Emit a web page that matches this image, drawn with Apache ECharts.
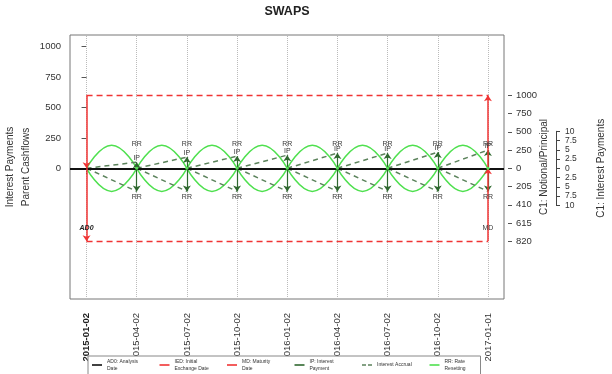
<!DOCTYPE html>
<html>
<head>
<meta charset="utf-8">
<script src="https://cdn.jsdelivr.net/npm/echarts@6/dist/echarts.min.js"></script>
<style>
html, body {margin:0; padding:0; background:#fff;}
#chart {width:612px; height:374px;}
</style>
</head>
<body>
<div id="chart"></div>
<script>
// event dates, x position = index in this list
let dateLabels = ['2015-01-02', '2015-04-02', '2015-07-02', '2015-10-02', '2016-01-02',
	'2016-04-02', '2016-07-02', '2016-10-02', '2017-01-01'];
let principalLevels = [600, -600];								// notional legs in parent units
let accrualReceive = [50, 92, 100, 108, 125, 125, 133, 150];	// accrued value at end of each period
let accrualPay = [-190, -190, -190, -190, -190, -190, -190, -190];
let resetUpper = [190, 190, 190, 190, 190, 190, 190, 190];	// rate reset arcs
let resetLower = [-190, -190, -190, -190, -190, -190, -190, -190];
let parentTicks = [0, 250, 500, 750, 1000];
let notionalTickPos = [-600, -450, -300, -150, 0, 150, 300, 450, 600];
let notionalTickText = ['820', '615', '410', '205', '0', '250', '500', '750', '1000'];
let interestTicks = [-10, -7.5, -5, -2.5, 0, 2.5, 5, 7.5, 10];
let legendNames = ['AD0: Analysis Date', 'IED: Initial Exchange Date', 'MD: Maturity Date',
	'IP: Interest Payment', 'Interest Accrual', 'RR: Rate Resetting'];
let legendText = ['AD0: Analysis\nDate', 'IED: Initial\nExchange Date', 'MD: Maturity\nDate',
	'IP: Interest\nPayment', 'Interest Accrual', 'RR: Rate\nResetting'];

let font = '"Liberation Sans", Arial, sans-serif';
let red = '#f03434', ipGreen = '#2f682f', accrualGreen = '#5c835c', resetGreen = '#4fe04f';
let lastIdx = dateLabels.length - 1;
let dateIdx = dateLabels.map((d, i) => i);
let solidIcon = 'path://M0,0H10V1.6H0Z';
let dashIcon = 'path://M0,0H4V1.6H0Z M6,0H10V1.6H6Z';

function seg(a, b){
	return [{coord: a}, {coord: b}];
}

function textPoint(coord, text, offset, extra){
	return {
		coord: coord, symbol: 'circle', symbolSize: 0,
		label: Object.assign({show: true, formatter: text, offset: offset,
			fontSize: 7, color: '#3a3a3a', fontFamily: font}, extra || {})
	};
}

// build the marks
let resetData = [];
let accrualData = [];
for(var i = 0; i < lastIdx; i++){
	resetData.push([i, 0], [i + 0.5, resetUpper[i]], [i + 1, 0], [null, null]);
	resetData.push([i, 0], [i + 0.5, resetLower[i]], [i + 1, 0], [null, null]);
	accrualData.push([i, 0], [i + 1, accrualReceive[i]], [null, null]);
	accrualData.push([i, 0], [i + 1, accrualPay[i]], [null, null]);
}
let ipLines = [];
let ipLabels = [];
let rrMarks = [];
for(var j = 1; j <= lastIdx; j++){
	ipLines.push(seg([j, 0], [j, accrualReceive[j - 1]]));
	ipLines.push(seg([j, 0], [j, accrualPay[j - 1]]));
	ipLabels.push(textPoint([j, accrualReceive[j - 1]], 'IP', [0, -4]));
	rrMarks.push(textPoint([j, resetUpper[j - 1]], 'RR', [0, -1]));
	rrMarks.push(textPoint([j, resetLower[j - 1]], 'RR', [0, 6]));
	rrMarks.push({coord: [j, 0], symbol: 'circle', symbolSize: 3,
		itemStyle: {color: resetGreen}, label: {show: false}});
}

let arrowLine = function(color, width, data){
	return {
		silent: true, symbol: ['none', 'arrow'], symbolSize: 6,
		label: {show: false},
		lineStyle: {color: color, width: width, type: 'solid'},
		emphasis: {disabled: true},
		data: data
	};
};

let option = {
	animation: false,
	backgroundColor: '#fff',
	textStyle: {fontFamily: font},
	title: {
		text: 'SWAPS', left: 287, top: 5, padding: 0, textAlign: 'center',
		textStyle: {fontSize: 12.5, fontWeight: 'bold', color: '#222', fontFamily: font}
	},
	legend: {
		left: 88, top: 356,
		padding: [2, 6, 4, 4],
		itemWidth: 10, itemHeight: 6, itemGap: 1.5,
		backgroundColor: '#fff', borderColor: '#888', borderWidth: 1,
		textStyle: {fontSize: 5, lineHeight: 7, width: 51, color: '#333', fontFamily: font},
		data: legendNames.map((n, k) => {
			let item = {name: n, icon: k === 4 ? dashIcon : solidIcon};
			if(k === legendNames.length - 1){
				item.textStyle = {width: 30};
			}
			return item;
		}),
		formatter: function(name){
			return legendText[legendNames.indexOf(name)];
		}
	},
	grid: [
		{left: 70, top: 35, width: 434, height: 264, show: true, borderColor: '#777', borderWidth: 1,
			outerBoundsMode: 'none', containLabel: false},
		{left: 556, top: 131.3, width: 26, height: 74, outerBoundsMode: 'none', containLabel: false}
	],
	xAxis: [
		{
			type: 'value', gridIndex: 0, min: -0.33, max: 8.32,
			axisLine: {show: false},
			axisTick: {show: true, customValues: dateIdx, length: 6, lineStyle: {color: '#555'}},
			axisLabel: {
				customValues: dateIdx, rotate: 90, margin: 14,
				fontSize: 9.5, color: '#333', fontFamily: font,
				formatter: function(value){
					let k = Math.round(value);
					return k === 0 ? '{b|' + dateLabels[k] + '}' : dateLabels[k];
				},
				rich: {b: {fontWeight: 'bold', fontSize: 9.5, color: '#222', fontFamily: font}}
			},
			splitLine: {show: false}
		},
		{type: 'value', gridIndex: 1, show: false, min: 0, max: 1}
	],
	yAxis: [
		{
			type: 'value', gridIndex: 0, position: 'left', min: -1075, max: 1096,
			axisLine: {show: false},
			axisTick: {show: true, customValues: parentTicks, length: 5, lineStyle: {color: '#555'}},
			axisLabel: {
				customValues: parentTicks, margin: 9, fontSize: 9.5, color: '#333', fontFamily: font,
				formatter: function(value){
					return String(value);
				}
			},
			splitLine: {show: false},
			name: 'Interest Payments\nParent Cashflows',
			nameLocation: 'middle', nameGap: 36, nameRotate: 90, nameMoveOverlap: false,
			nameTextStyle: {fontSize: 10, lineHeight: 16, color: '#333', fontFamily: font}
		},
		{
			type: 'value', gridIndex: 0, position: 'right', offset: 4, min: -1075, max: 1096,
			axisLine: {show: false},
			axisTick: {show: true, customValues: notionalTickPos, length: 4, lineStyle: {color: '#555'}},
			axisLabel: {
				customValues: notionalTickPos, margin: 8, fontSize: 9.5, color: '#333', fontFamily: font,
				formatter: function(value){
					return notionalTickText[notionalTickPos.indexOf(value)];
				}
			},
			splitLine: {show: false},
			name: 'C1: Notional/Principal',
			nameLocation: 'middle', nameGap: 31, nameRotate: 90, nameMoveOverlap: false,
			nameTextStyle: {fontSize: 10, color: '#333', fontFamily: font}
		},
		{
			type: 'value', gridIndex: 1, position: 'left', min: -10, max: 10,
			axisLine: {show: true, onZero: false, lineStyle: {color: '#444', width: 1}},
			axisTick: {show: true, inside: true, customValues: interestTicks, length: 4,
				lineStyle: {color: '#444'}},
			axisLabel: {
				customValues: interestTicks, inside: true, margin: 9, fontSize: 8.5, lineHeight: 8.5,
				color: '#333', fontFamily: font, hideOverlap: false,
				formatter: function(value){
					return String(Math.abs(value));
				}
			},
			splitLine: {show: false},
			name: 'C1: Interest Payments',
			nameLocation: 'middle', nameGap: -50, nameRotate: 90, nameMoveOverlap: false,
			nameTextStyle: {fontSize: 10, color: '#333', fontFamily: font}
		}
	],
	series: [
		{
			// vertical dotted guides at each date
			name: 'guides', type: 'line', data: [], symbol: 'none',
			markLine: {
				silent: true, symbol: 'none', label: {show: false},
				lineStyle: {color: '#bbb', width: 1, type: 'dotted'},
				data: dateIdx.map(k => ({xAxis: k}))
			}
		},
		{
			// principal levels between exchange dates
			name: 'principal', type: 'line', data: [], symbol: 'none',
			markLine: {
				silent: true, symbol: 'none', label: {show: false},
				lineStyle: {color: red, width: 1.3, type: [6, 4]},
				data: principalLevels.map(v => seg([0, v], [lastIdx, v]))
			}
		},
		{
			name: 'RR: Rate Resetting', type: 'line', smooth: 0.5, symbol: 'none',
			color: resetGreen, lineStyle: {color: resetGreen, width: 1.5},
			data: resetData,
			markPoint: {silent: true, data: rrMarks}
		},
		{
			name: 'Interest Accrual', type: 'line', symbol: 'none',
			color: accrualGreen, lineStyle: {color: accrualGreen, width: 1.5, type: [5, 4]},
			data: accrualData
		},
		{
			name: 'IP: Interest Payment', type: 'line', symbol: 'none', data: [],
			color: ipGreen, lineStyle: {color: ipGreen, width: 1.2},
			markLine: arrowLine(ipGreen, 1.2, ipLines),
			markPoint: {silent: true, data: ipLabels}
		},
		{
			name: 'AD0: Analysis Date', type: 'line', symbol: 'none', data: [],
			color: '#111', lineStyle: {color: '#111', width: 2},
			markLine: {
				silent: true, symbol: 'none', label: {show: false},
				lineStyle: {color: '#111', width: 2, type: 'solid'},
				data: [{yAxis: 0}]
			},
			markPoint: {silent: true, data: [textPoint([0, principalLevels[1]], 'AD0', [0, -13],
				{fontWeight: 'bold', fontStyle: 'italic', color: '#222'})]}
		},
		{
			name: 'IED: Initial Exchange Date', type: 'line', symbol: 'none', data: [],
			color: red, lineStyle: {color: red, width: 1.5},
			markLine: arrowLine(red, 1.5, [
				seg([0, principalLevels[0]], [0, 0]),
				seg([0, 0], [0, principalLevels[1]])
			])
		},
		{
			name: 'MD: Maturity Date', type: 'line', symbol: 'none', data: [],
			color: red, lineStyle: {color: red, width: 1.5},
			markLine: arrowLine(red, 1.5, [
				seg([lastIdx, principalLevels[1]], [lastIdx, 0]),
				seg([lastIdx, 0], [lastIdx, principalLevels[0]])
			]),
			markPoint: {silent: true, data: [textPoint([lastIdx, principalLevels[1]], 'MD', [0, -13])]}
		}
	]
};

let myChart = echarts.init(document.getElementById('chart'));
myChart.setOption(option);
</script>
</body>
</html>
